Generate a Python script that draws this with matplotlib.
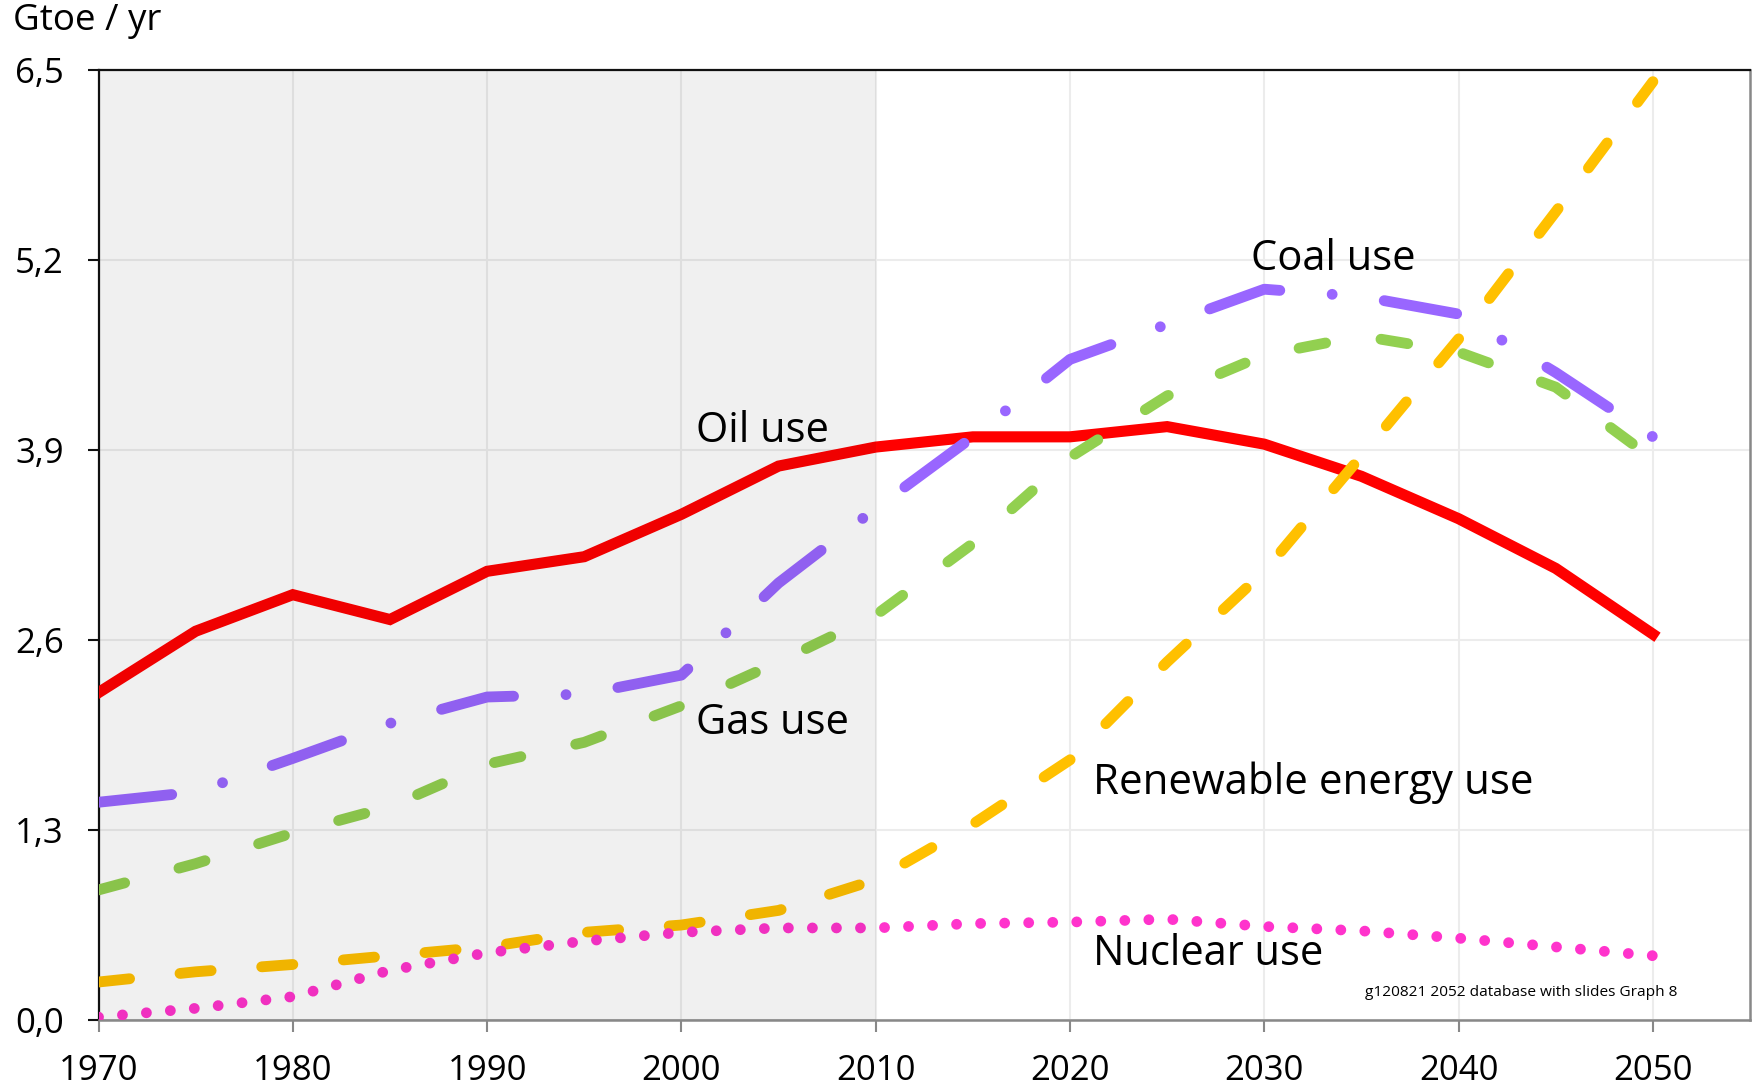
import matplotlib
matplotlib.use("Agg")
import matplotlib.pyplot as plt
from matplotlib.ticker import FuncFormatter

plt.rcParams['font.family'] = ['Open Sans', 'DejaVu Sans']
plt.rcParams['lines.scale_dashes'] = False

years = [1970, 1975, 1980, 1985, 1990, 1995, 2000, 2005, 2010, 2015,
         2020, 2025, 2030, 2035, 2040, 2045, 2050]
oil = [2.24, 2.66, 2.91, 2.74, 3.07, 3.17, 3.46, 3.79, 3.92, 3.99,
       3.99, 4.06, 3.94, 3.72, 3.43, 3.09, 2.64]
coal = [1.49, 1.56, 1.79, 2.03, 2.21, 2.23, 2.36, 2.99, 3.50, 3.99,
        4.52, 4.76, 5.00, 4.95, 4.83, 4.43, 3.99]
gas = [0.89, 1.07, 1.28, 1.46, 1.75, 1.90, 2.15, 2.45, 2.77, 3.26,
       3.85, 4.27, 4.55, 4.68, 4.57, 4.33, 3.84]
renew = [0.26, 0.33, 0.38, 0.44, 0.50, 0.60, 0.65, 0.75, 0.96, 1.34,
         1.78, 2.45, 3.07, 3.86, 4.66, 5.53, 6.42]
nuclear = [0.02, 0.08, 0.16, 0.34, 0.46, 0.54, 0.60, 0.63, 0.63, 0.66,
           0.67, 0.69, 0.64, 0.61, 0.56, 0.50, 0.44]

xticks = [1970, 1980, 1990, 2000, 2010, 2020, 2030, 2040, 2050]
yticks = [0.0, 1.3, 2.6, 3.9, 5.2, 6.5]

fig = plt.figure(figsize=(17.56, 10.90), dpi=100)
ax = fig.add_axes([0.0561, 0.0642, 0.9966 - 0.0561, 0.9358 - 0.0642])
ax.set_xlim(1970, 2055)
ax.set_ylim(0, 6.5)

ax.set_xticks(xticks)
ax.set_yticks(yticks)
ax.yaxis.set_major_formatter(FuncFormatter(lambda v, p: f"{v:.1f}".replace('.', ',')))
ax.grid(True, color='#ececec', lw=1.5, zorder=0)
ax.set_axisbelow(True)

ax.plot(years, oil, color='#ff0000', lw=8, solid_joinstyle='miter', zorder=3)
ax.plot(years, gas, color='#92d050', lw=7.8, dashes=(19.5, 40.5),
        dash_capstyle='round', dash_joinstyle='round', zorder=4)
ax.plot(years, coal, color='#9966ff', lw=7.8, dashes=(53, 37.8, 0.01, 37.8),
        dash_capstyle='round', dash_joinstyle='round', zorder=5)
ax.plot(years, renew, color='#ffc000', lw=7.8, dashes=(22.5, 36.5),
        dash_capstyle='round', dash_joinstyle='round', zorder=6)
ax.plot(years, nuclear, color='#ff33cc', lw=7.8, dashes=(0.01, 17.3),
        dash_capstyle='round', zorder=7)

ax.axvspan(1970, 2010, color='black', alpha=0.06, lw=0, zorder=8)

lab = dict(fontsize=30, va='center', ha='left', color='black', zorder=10)
ax.text(2000.75, 4.03, 'Oil use', **lab)
ax.text(2000.75, 2.03, 'Gas use', **lab)
ax.text(2029.3, 5.21, 'Coal use', **lab)
ax.text(2021.2, 1.62, 'Renewable energy use', fontsize=30.3,
        va='center', ha='left', zorder=10)
ax.text(2021.2, 0.45, 'Nuclear use', **lab)
ax.text(2035.2, 0.19, 'g120821 2052 database with slides Graph 8',
        fontsize=11.1, va='center', ha='left', zorder=10)

fig.text(0.0075, 0.981, 'Gtoe / yr', fontsize=26.5, va='center', ha='left')

for s in ['left', 'top']:
    ax.spines[s].set_color('#111111')
    ax.spines[s].set_linewidth(1.6)
for s in ['bottom', 'right']:
    ax.spines[s].set_color('#888888')
    ax.spines[s].set_linewidth(1.8)

ax.tick_params(axis='y', length=8, width=1.5, color='#111111', pad=17,
               labelsize=25)
ax.tick_params(axis='x', length=8.5, width=1.5, color='#888888', pad=16,
               labelsize=25)

fig.savefig('out.png', dpi=100)
